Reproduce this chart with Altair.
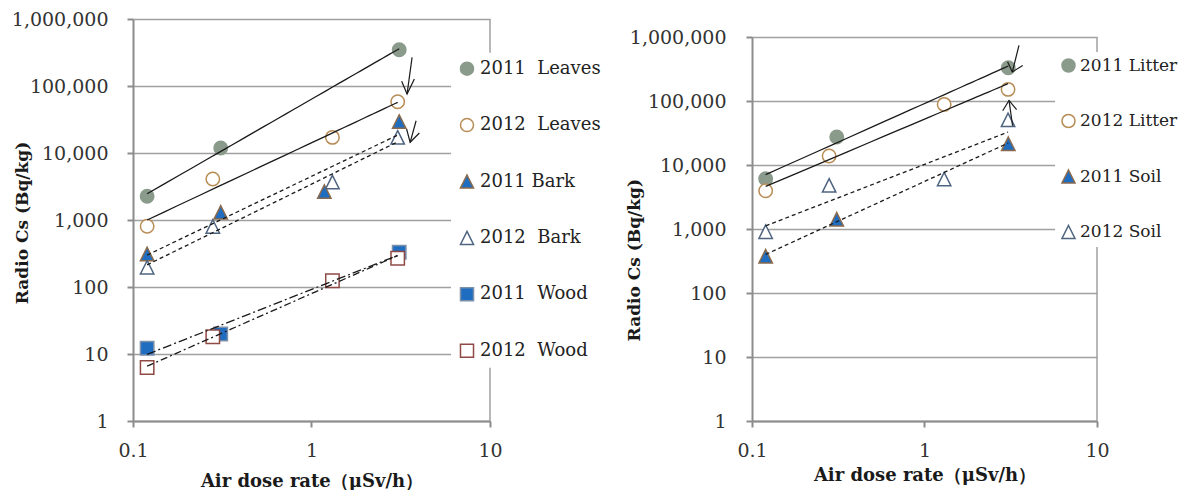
import altair as alt
import pandas as pd

FONT = "DejaVu Serif"
XTITLE = "Air dose rate（μSv/h）"
YTITLE = "Radio Cs (Bq/kg)"
X_TICKS = [0.1, 1, 10]
Y_TICKS = [1, 10, 100, 1000, 10000, 100000, 1000000]

# ---------------- left panel: Leaves / Bark / Wood ----------------
LEFT_NAMES = ["2011\u00a0\u00a0Leaves", "2012\u00a0\u00a0Leaves", "2011\u00a0Bark",
              "2012\u00a0\u00a0Bark", "2011\u00a0\u00a0Wood", "2012\u00a0\u00a0Wood"]
leaves_2011_x = [0.12, 0.31, 3.1]
leaves_2011_y = [2260, 11900, 348000]
leaves_2012_x = [0.12, 0.28, 1.31, 3.04]
leaves_2012_y = [806, 4090, 17100, 58300]
bark_2011_x = [0.12, 0.31, 1.18, 3.1]
bark_2011_y = [311, 1300, 2660, 29500]
bark_2012_x = [0.12, 0.28, 1.31, 3.04]
bark_2012_y = [197, 800, 3690, 17100]
wood_2011_x = [0.12, 0.31, 3.1]
wood_2011_y = [12.2, 19.9, 330]
wood_2012_x = [0.12, 0.28, 1.31, 3.04]
wood_2012_y = [6.3, 18.1, 124, 268]

# ---------------- right panel: Litter / Soil ----------------
RIGHT_NAMES = ["2011\u00a0Litter", "2012\u00a0Litter", "2011\u00a0Soil", "2012\u00a0Soil"]
litter_2011_x = [0.12, 0.31, 3.06]
litter_2011_y = [6100, 27400, 331000]
litter_2012_x = [0.12, 0.28, 1.30, 3.05]
litter_2012_y = [3960, 13800, 88500, 152000]
soil_2011_x = [0.12, 0.31, 3.06]
soil_2011_y = [376, 1420, 21500]
soil_2012_x = [0.12, 0.28, 1.30, 3.05]
soil_2012_y = [908, 4800, 6040, 50700]

# hand-drawn arrows (data units): shaft start, tip, wing1, wing2
left_arrow_x = [[3.66, 3.43, 3.20, 3.77], [3.855, 3.57, 3.41, 4.02]]
left_arrow_y = [[268000, 76000, 117500, 127200], [30300, 14450, 22800, 19900]]
right_arrow_x = [[3.53, 3.23, 3.03, 3.71], [3.24, 3.09, 2.84, 3.42]]
right_arrow_y = [[740000, 284000, 411000, 360000], [41100, 102000, 70500, 73100]]

TRI = "M0,-1L1,1L-1,1Z"
LEFT_SHAPES = ["circle", "circle", TRI, TRI, "square", "square"]
LEFT_FILLS = ["#8a9b8c", "white", "#1f6dc1", "white", "#1f6dc1", "white"]
LEFT_STROKES = ["#8a9b8c", "#b88c55", "#8a6a4c", "#4f6480", "#7d90aa", "#8f4a45"]
LEFT_DASHES = [None, None, (4, 3), (4, 3), (9, 3, 2, 3), (7, 3, 2, 3)]
RIGHT_SHAPES = ["circle", "circle", TRI, TRI]
RIGHT_FILLS = ["#8a9b8c", "white", "#1f6dc1", "white"]
RIGHT_STROKES = ["#8a9b8c", "#b88c55", "#8a6a4c", "#4f6480"]
RIGHT_DASHES = [None, None, (4, 3), (4, 3)]


def points_df(names, xs_list, ys_list):
    rows = []
    for n, xs, ys in zip(names, xs_list, ys_list):
        for x, y in zip(xs, ys):
            rows.append({"series": n, "x": x, "y": y})
    return pd.DataFrame(rows)


def arrows_df(ax, ay):
    rows = []
    for i, (xs, ys) in enumerate(zip(ax, ay)):
        rows.append({"id": f"{i}s", "ord": 0, "x": xs[0], "y": ys[0]})
        rows.append({"id": f"{i}s", "ord": 1, "x": xs[1], "y": ys[1]})
        rows.append({"id": f"{i}h", "ord": 0, "x": xs[2], "y": ys[2]})
        rows.append({"id": f"{i}h", "ord": 1, "x": xs[1], "y": ys[1]})
        rows.append({"id": f"{i}h", "ord": 2, "x": xs[3], "y": ys[3]})
    return pd.DataFrame(rows)


def panel(df, adf, names, shapes, fills, strokes, dashes, width, height,
          legend_x, legend_y, row_pad, leg_font, leg_pad, leg_offset,
          title_x, title_y, xtitle_y, label_pad):
    xscale = alt.Scale(type="log", domain=[0.1, 10], nice=False)
    yscale = alt.Scale(type="log", domain=[1, 1000000], nice=False)
    xaxis = alt.Axis(values=X_TICKS, format="~g", title=XTITLE, grid=False,
                     labelFont=FONT, labelFontSize=19, labelColor="#333333",
                     labelPadding=14, labelFlush=False, labelOverlap=False,
                     tickSize=6, tickWidth=2, tickColor="#8c8c8c",
                     domainColor="#8c8c8c", domainWidth=2,
                     titleFont=FONT, titleFontSize=18, titleFontWeight="bold",
                     titleColor="#1a1a1a", titleY=xtitle_y, titleBaseline="middle")
    yaxis = alt.Axis(values=Y_TICKS, format=",d", title=YTITLE, grid=True,
                     gridColor="#a0a0a0", gridWidth=1.5,
                     labelFont=FONT, labelFontSize=19, labelColor="#333333",
                     labelPadding=label_pad, labelFlush=False, labelOverlap=False,
                     tickSize=6, tickWidth=2, tickColor="#8c8c8c",
                     domainColor="#8c8c8c", domainWidth=2,
                     titleFont=FONT, titleFontSize=17, titleFontWeight="bold",
                     titleColor="#1a1a1a", titleX=title_x, titleY=title_y,
                     titleBaseline="middle", titleAngle=270)
    X = alt.X("x:Q", scale=xscale, axis=xaxis)
    Y = alt.Y("y:Q", scale=yscale, axis=yaxis)
    leg = alt.Legend(orient="none", legendX=legend_x, legendY=legend_y, title=None,
                     fillColor="white", padding=leg_pad, rowPadding=row_pad,
                     labelFont=FONT, labelFontSize=leg_font, labelColor="#222222",
                     symbolSize=170, symbolStrokeWidth=1.5, labelOffset=leg_offset,
                     labelLimit=300)
    base = alt.Chart(df)
    pts = base.mark_point(filled=True, size=180, strokeWidth=1.5, opacity=1).encode(
        x=X, y=Y,
        shape=alt.Shape("series:N", scale=alt.Scale(domain=names, range=shapes), legend=leg),
        fill=alt.Fill("series:N", scale=alt.Scale(domain=names, range=fills), legend=leg),
        stroke=alt.Stroke("series:N", scale=alt.Scale(domain=names, range=strokes), legend=leg),
    )
    # power-law trend lines, one layer per line style
    styles = []
    for d in dashes:
        if d not in styles:
            styles.append(d)
    trend_layers = []
    for d in styles:
        members = [n for n, dd in zip(names, dashes) if dd == d]
        mk = dict(color="#1a1a1a", strokeWidth=1.3)
        if d is not None:
            mk["strokeDash"] = list(d)
        t = (
            base.transform_filter(alt.FieldOneOfPredicate(field="series", oneOf=members))
            .transform_regression("x", "y", method="pow", groupby=["series"])
            .mark_line(**mk)
            .encode(x=X, y=Y, detail="series:N")
        )
        trend_layers.append(t)
    arrows = alt.Chart(adf).mark_line(color="#1a1a1a", strokeWidth=1.2).encode(
        x=X, y=Y, detail="id:N", order="ord:Q")
    border_df = pd.DataFrame({"x": [10], "y": [1], "y2": [1000000]})
    border = alt.Chart(border_df).mark_rule(color="#a0a0a0", strokeWidth=1.5).encode(
        x=X, y=Y, y2="y2:Q")
    return alt.layer(border, pts, *trend_layers, arrows).properties(width=width, height=height)


left_df = points_df(LEFT_NAMES,
                    [leaves_2011_x, leaves_2012_x, bark_2011_x, bark_2012_x, wood_2011_x, wood_2012_x],
                    [leaves_2011_y, leaves_2012_y, bark_2011_y, bark_2012_y, wood_2011_y, wood_2012_y])
right_df = points_df(RIGHT_NAMES,
                     [litter_2011_x, litter_2012_x, soil_2011_x, soil_2012_x],
                     [litter_2011_y, litter_2012_y, soil_2011_y, soil_2012_y])

left = panel(left_df, arrows_df(left_arrow_x, left_arrow_y), LEFT_NAMES, LEFT_SHAPES,
             LEFT_FILLS, LEFT_STROKES, LEFT_DASHES, 357, 402,
             318, 33.7, 36.4, 18, 7, 4, -111, 203.5, 60, 19)
right_panel = panel(right_df, arrows_df(right_arrow_x, right_arrow_y), RIGHT_NAMES, RIGHT_SHAPES,
                    RIGHT_FILLS, RIGHT_STROKES, RIGHT_DASHES, 345, 384,
                    303, 33, 34.5, 17, 5, 3, -118, 222.7, 54, 20)

# empty strip above the right panel so that its plot area starts lower
strip = alt.Chart(pd.DataFrame({"x": [0]})).mark_rule(color="white", opacity=0).encode(
    x=alt.value(0), y=alt.value(0)).properties(width=345, height=9)
right = alt.vconcat(strip, right_panel, spacing=0)

chart = alt.hconcat(left, right, spacing=16).resolve_scale(
    shape="independent", fill="independent", stroke="independent",
    x="independent", y="independent"
).properties(
    padding={"left": 3, "top": 2, "right": 0, "bottom": 0},
    background="white",
).configure_view(stroke=None)

chart.save("out.html", embed_options={"renderer": "svg", "actions": False})
